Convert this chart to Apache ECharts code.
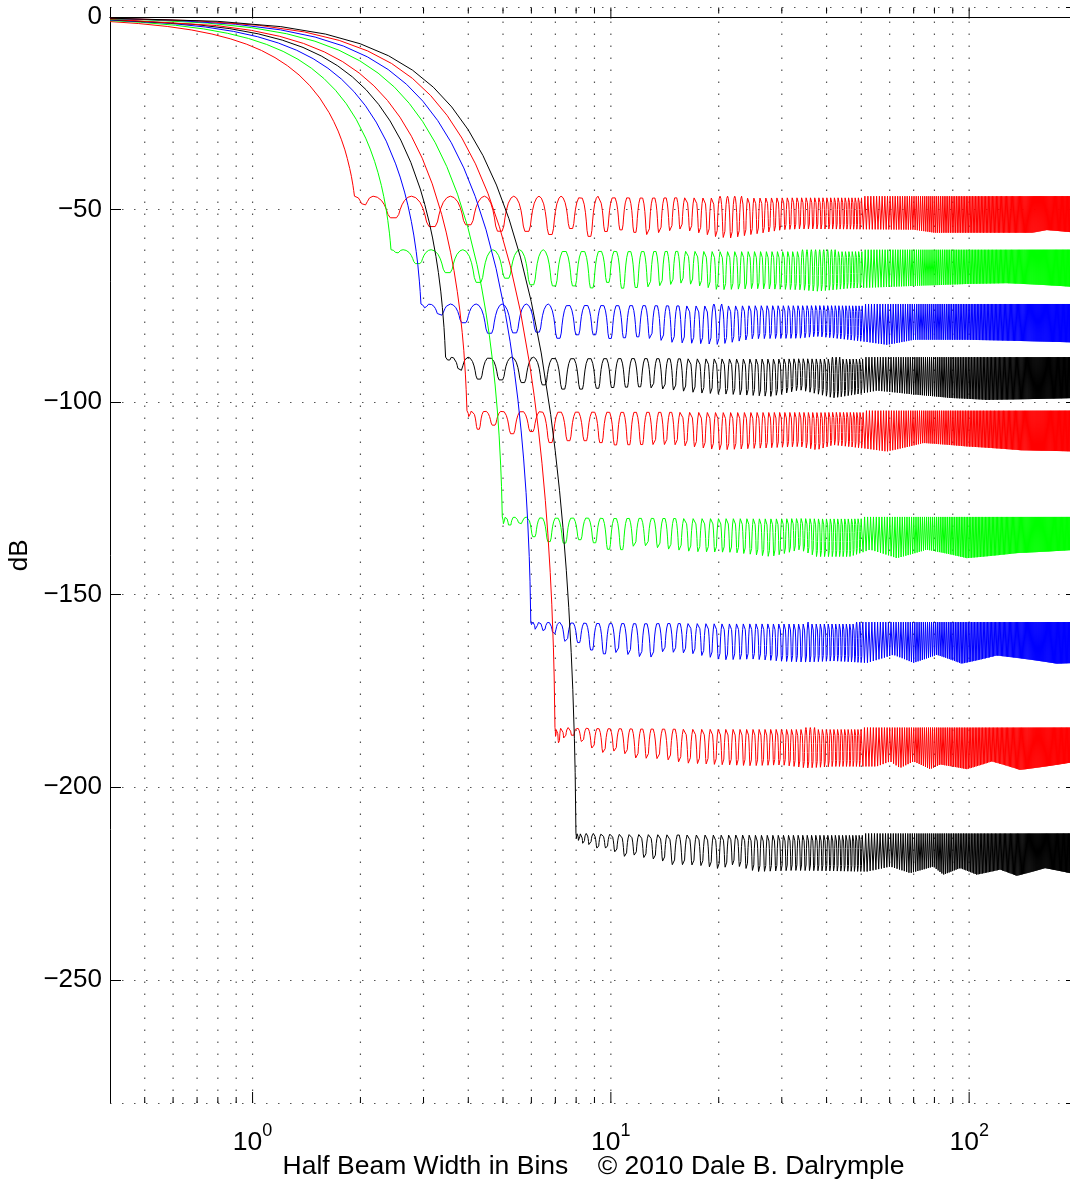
<!DOCTYPE html>
<html>
<head>
<meta charset="utf-8">
<title>Half Beam Width in Bins</title>
<script src="https://cdn.jsdelivr.net/npm/echarts@6.0.0/dist/echarts.min.js"></script>
<style>
    html, body { margin: 0; padding: 0; background: #fff; }
    #firstChart { width: 1070px; height: 1186px; }
</style>
</head>
<body>
<div id="firstChart"></div>
<script>
/** ----------------数据--------------------------------* */
var xMin = 0.4, xMax = 200;
var yMin = -282, yMax = 2.5;

// x grid / tick positions (log axis)
var xMajorTicks = [1, 10, 100];
var xMinorTicks = [0.5, 0.6, 0.7, 0.8, 0.9, 2, 3, 4, 5, 6, 7, 8, 9,
    20, 30, 40, 50, 60, 70, 80, 90];

// curve colours, in plotting order
var curveColors = ['#ff0000', '#00ff00', '#0000ff', '#000000', '#ff0000',
    '#00ff00', '#0000ff', '#ff0000', '#000000'];
// equiripple sidelobe level of each curve, dB
var sideLevels = [-46.5, -60.4, -74.5, -88.3, -102.2, -129.8, -157.1, -184.5, -212.0];

// main lobes: [bins, dB] from the left edge down to the sidelobe level
var mainA = [[0.4, -1.15], [0.481, -1.67], [0.578, -2.42], [0.674, -3.32], [0.770, -4.39], [0.866, -5.62],
    [0.963, -7.04], [1.059, -8.66], [1.155, -10.51], [1.251, -12.61], [1.348, -15.02], [1.444, -17.78],
    [1.540, -21.01], [1.636, -24.84], [1.684, -27.07], [1.733, -29.59], [1.771, -31.87], [1.810, -34.47],
    [1.838, -36.71], [1.867, -39.31], [1.887, -41.33], [1.906, -43.67], [1.915, -45.01], [1.925, -46.5]];
var mainB = [[0.4, -0.90], [0.487, -1.34], [0.609, -2.11], [0.730, -3.06], [0.852, -4.20], [0.974, -5.54],
    [1.095, -7.10], [1.217, -8.90], [1.339, -10.95], [1.460, -13.28], [1.582, -15.95], [1.704, -18.99],
    [1.826, -22.49], [1.947, -26.57], [2.069, -31.43], [2.130, -34.26], [2.191, -37.46], [2.239, -40.37],
    [2.288, -43.71], [2.324, -46.63], [2.361, -50.06], [2.385, -52.80], [2.410, -56.10], [2.422, -58.08],
    [2.434, -60.4]];
var mainC = [[0.4, -0.74], [0.590, -1.63], [0.738, -2.56], [0.885, -3.71], [1.033, -5.09], [1.180, -6.72],
    [1.328, -8.61], [1.476, -10.79], [1.623, -13.27], [1.771, -16.11], [1.918, -19.33], [2.066, -23.02],
    [2.213, -27.26], [2.361, -32.21], [2.508, -38.11], [2.582, -41.54], [2.656, -45.43], [2.715, -48.96],
    [2.774, -53.04], [2.818, -56.60], [2.862, -60.86], [2.892, -64.29], [2.921, -68.56], [2.936, -71.22],
    [2.951, -74.5]];
var mainD = [[0.4, -0.63], [0.691, -1.91], [0.864, -2.99], [1.037, -4.34], [1.210, -5.97], [1.383, -7.87],
    [1.555, -10.09], [1.728, -12.64], [1.901, -15.55], [2.074, -18.86], [2.247, -22.64], [2.420, -26.96],
    [2.592, -31.93], [2.765, -37.73], [2.938, -44.63], [3.024, -48.66], [3.111, -53.21], [3.180, -57.35],
    [3.249, -62.13], [3.301, -66.33], [3.353, -71.35], [3.387, -75.44], [3.422, -80.61], [3.439, -83.96],
    [3.457, -88.3]];
var mainE = [[0.4, -0.55], [0.793, -2.19], [0.992, -3.44], [1.190, -4.98], [1.388, -6.84], [1.586, -9.03],
    [1.785, -11.58], [1.983, -14.50], [2.181, -17.84], [2.380, -21.64], [2.578, -25.98], [2.776, -30.94],
    [2.975, -36.64], [3.173, -43.29], [3.371, -51.21], [3.470, -55.83], [3.569, -61.05], [3.649, -65.81],
    [3.728, -71.30], [3.788, -76.12], [3.847, -81.89], [3.887, -86.62], [3.926, -92.70], [3.946, -96.72],
    [3.966, -102.2]];
var mainF = [[0.4, -0.44], [0.498, -0.68], [0.747, -1.54], [0.995, -2.74], [1.244, -4.31], [1.493, -6.26],
    [1.742, -8.59], [1.991, -11.34], [2.240, -14.53], [2.489, -18.19], [2.737, -22.39], [2.986, -27.16],
    [3.235, -32.60], [3.484, -38.82], [3.733, -45.98], [3.982, -54.32], [4.230, -64.27], [4.355, -70.06],
    [4.479, -76.61], [4.579, -82.58], [4.678, -89.48], [4.753, -95.53], [4.828, -102.80], [4.877, -108.76],
    [4.927, -116.55], [4.952, -121.88], [4.977, -129.8]];
var mainG = [[0.4, -0.37], [0.598, -0.82], [0.897, -1.84], [1.196, -3.30], [1.495, -5.18], [1.793, -7.51],
    [2.092, -10.32], [2.391, -13.62], [2.690, -17.45], [2.989, -21.85], [3.288, -26.89], [3.587, -32.62],
    [3.886, -39.16], [4.185, -46.63], [4.484, -55.23], [4.782, -65.25], [5.081, -77.19], [5.231, -84.15],
    [5.380, -92.02], [5.500, -99.19], [5.619, -107.47], [5.709, -114.74], [5.799, -123.47], [5.858, -130.66],
    [5.918, -140.07], [5.948, -146.63], [5.978, -157.1]];
var mainH = [[0.4, -0.31], [0.698, -0.95], [1.047, -2.15], [1.396, -3.85], [1.746, -6.05], [2.095, -8.78],
    [2.444, -12.05], [2.793, -15.90], [3.142, -20.38], [3.491, -25.52], [3.840, -31.41], [4.189, -38.10],
    [4.538, -45.74], [4.887, -54.46], [5.237, -64.50], [5.586, -76.21], [5.935, -90.16], [6.109, -98.29],
    [6.284, -107.48], [6.423, -115.85], [6.563, -125.52], [6.668, -134.01], [6.773, -144.21], [6.842, -152.61],
    [6.912, -163.62], [6.947, -171.38], [6.982, -184.5]];
var mainI = [[0.4, -0.27], [0.799, -1.09], [1.199, -2.47], [1.598, -4.40], [1.998, -6.92], [2.397, -10.04],
    [2.797, -13.79], [3.196, -18.20], [3.596, -23.32], [3.995, -29.21], [4.395, -35.94], [4.794, -43.61],
    [5.194, -52.34], [5.593, -62.33], [5.993, -73.82], [6.392, -87.21], [6.792, -103.18], [6.991, -112.48],
    [7.191, -123.00], [7.351, -132.58], [7.511, -143.65], [7.630, -153.36], [7.750, -165.03], [7.830, -174.64],
    [7.910, -187.26], [7.950, -196.20], [7.990, -212.0]];

// sidelobe peak positions (bins); past the last one the lobes are one bin apart
var peaksA = [1.925, 2.169, 2.776, 3.565, 4.439, 5.358, 6.301, 7.260, 8.228, 9.204, 10.18, 11.17];
var peaksB = [2.434, 2.631, 3.150, 3.863, 4.682, 5.561, 6.475, 7.411, 8.362, 9.323, 10.29, 11.27];
var peaksC = [2.951, 3.116, 3.565, 4.208, 4.971, 5.806, 6.686, 7.597, 8.527, 9.471, 10.43, 11.39];
var peaksD = [3.457, 3.598, 3.993, 4.577, 5.287, 6.078, 6.924, 7.807, 8.715, 9.641, 10.58, 11.53];
var peaksE = [3.966, 4.090, 4.442, 4.973, 5.633, 6.382, 7.192, 8.045, 8.929, 9.835, 10.76, 11.69];
var peaksF = [4.977, 5.076, 5.364, 5.811, 6.385, 7.055, 7.796, 8.589, 9.422, 10.28, 11.17, 12.07];
var peaksG = [5.978, 6.061, 6.303, 6.688, 7.192, 7.793, 8.469, 9.205, 9.986, 10.80, 11.65, 12.52];
var peaksH = [6.982, 7.053, 7.263, 7.599, 8.047, 8.588, 9.206, 9.887, 10.62, 11.39, 12.20, 13.03];
var peaksI = [7.990, 8.052, 8.237, 8.535, 8.935, 9.426, 9.992, 10.62, 11.31, 12.04, 12.80, 13.60, 14.42];

// lower edge of the sidelobe ripple (depth of the dips): [bins, dB]
var floorA = [[1.99, -48.3], [2.44, -52], [3.15, -54.4], [3.99, -53.9], [4.9, -55.6], [5.8, -55.6], [6.75, -56.5],
    [7.7, -54.8], [8.67, -57], [9.63, -55.7], [10.6, -55.2], [12.6, -56.5], [15.6, -55], [19.7, -57], [21.5, -57.4],
    [24.5, -56.5], [30.3, -55.2], [33.7, -55], [69.9, -55.2], [80, -56], [150, -56], [164.6, -55.3], [200, -56]];
var floorB = [[2.53, -61.2], [2.86, -63.9], [3.49, -66.3], [4.26, -68.9], [5.12, -67.8], [6.01, -69.5], [6.94, -69.8],
    [7.9, -69.8], [8.8, -70.4], [9.7, -68.7], [10.7, -70.4], [13, -70], [16, -69], [20, -70.8], [25, -70.5],
    [33.7, -70.8], [37.6, -71.2], [46.5, -70.4], [69.9, -69.8], [98.5, -69.3], [127, -69.1], [200, -70.1]];
var floorC = [[3.05, -75.5], [3.31, -77.3], [3.87, -79.3], [4.58, -82.1], [5.38, -82], [6.24, -81.8], [7.14, -83.4],
    [8.06, -82.5], [9.0, -82.5], [10, -83.5], [12, -83], [15, -84.5], [20, -85], [25, -83.5], [33.7, -83.4],
    [37.6, -82.9], [58.9, -85.1], [69.9, -83.8], [98.5, -83.8], [151, -84.2], [200, -84.5]];
var floorD = [[3.56, -89.5], [3.77, -91.6], [4.27, -94], [4.92, -94.2], [5.67, -94.9], [6.5, -95.5], [7.36, -96.6],
    [8.26, -96.6], [10, -96.2], [12, -96], [17.7, -97.6], [28, -98.5], [33.7, -96.8], [41.8, -98.9], [55.2, -97],
    [69.9, -98], [88.4, -98.9], [112, -99.4], [200, -98.9]];
var floorE = [[4.0, -103.5], [4.2, -107.2], [4.69, -105.9], [5.29, -108.2], [6.0, -107.6], [6.79, -110.5],
    [7.62, -110], [8.49, -110], [9.38, -110.5], [10.3, -111.1], [12, -111], [15, -111], [20, -112.4], [25, -112],
    [33.7, -111.5], [37.6, -112.4], [41.8, -111.1], [58.9, -112.8], [74.5, -110.6], [98.5, -111.5], [140, -112.5],
    [200, -112.8]];
var floorF = [[5.0, -131.8], [5.2, -132.3], [5.58, -131.5], [6.08, -134.9], [6.71, -136.2], [7.42, -136.6],
    [8.2, -135.7], [9.0, -136.5], [9.9, -138.3], [10.8, -138.3], [12, -137], [14, -138], [17, -138.8], [22, -139],
    [28, -140.1], [33.7, -138.3], [37.6, -140.1], [46.5, -140.1], [52.9, -138.3], [62.8, -140.5], [76.1, -138.3],
    [98.5, -140.5], [135.8, -139.2], [200, -138.3]];
var floorG = [[6.0, -158], [6.16, -159.3], [6.48, -159.3], [6.94, -160.1], [7.48, -162.1], [8.12, -162.4],
    [8.8, -164.3], [9.5, -165.4], [10.4, -165], [12.8, -166.5], [14, -164.8], [16.8, -165.2], [20.4, -166.9],
    [24.9, -166.7], [30.3, -167.3], [35.2, -167.5], [41.8, -167.2], [51.8, -167.7], [61.4, -165.6], [69.9, -167.7],
    [81.2, -165.6], [95.3, -167.9], [119.4, -165.8], [175.5, -167.9], [200, -167.7]];
var floorH = [[7.0, -187], [7.14, -188.5], [7.42, -187.7], [7.81, -186.8], [8.31, -188.1], [8.89, -189.8],
    [9.5, -191], [10.1, -190.5], [10.8, -191], [11.8, -192.4], [14, -192.6], [16.1, -193.7], [20, -194.1],
    [24.5, -194.4], [30, -194.2], [35.2, -195], [41.8, -194.6], [55.2, -194.6], [60.2, -193.3], [64.1, -195],
    [69.9, -193.3], [77.8, -195.3], [83, -194.1], [98.5, -195.3], [115.6, -193.3], [138.7, -195.5], [200, -193.3]];
var floorI = [[8.02, -213.5], [8.3, -214.9], [9.1, -215.8], [9.9, -215.8], [10.84, -218], [11.7, -217.6],
    [12.6, -218.4], [13.7, -218.8], [14.8, -220.1], [16.5, -220.1], [18.3, -220.4], [20.2, -221.2], [22, -220.1],
    [25.5, -221.9], [32.3, -221.6], [51.8, -221.9], [60.2, -220.6], [68.4, -222.3], [79.4, -220.6], [84.7, -222.7],
    [94.3, -221], [105, -222.7], [122, -221.4], [135.8, -223], [162.8, -221], [200, -222.7]];

// shape of one sidelobe, peak to peak: fraction of the lobe width / fraction of the dip depth
var lobeT = [0, 0.1, 0.2, 0.27, 0.32, 0.36, 0.42, 0.58, 0.64, 0.68, 0.73, 0.8, 0.9, 1];
var lobeD = [0, 0.05, 0.2, 0.4, 0.62, 0.85, 1, 1, 0.85, 0.62, 0.4, 0.2, 0.05, 0];
// where the lobes are only a pixel or two wide a plain zigzag looks the same
var denseFrom = 50;
var lobeTDense = [0, 0.5, 1];
var lobeDDense = [0, 1, 0];

var curveMains = [mainA, mainB, mainC, mainD, mainE, mainF, mainG, mainH, mainI];
var curvePeaks = [peaksA, peaksB, peaksC, peaksD, peaksE, peaksF, peaksG, peaksH, peaksI];
var curveFloors = [floorA, floorB, floorC, floorD, floorE, floorF, floorG, floorH, floorI];

var fontName = '"Liberation Sans", Arial, Helvetica, sans-serif';

/** ----------------加载图表-------------------------* */
window.onload = function () {
    initChart();
};

// dip level at x, read along the floor list
function floorAt(floor, x) {
    if (x <= floor[0][0]) return floor[0][1];
    for (var i = 1; i < floor.length; i++) {
        if (x <= floor[i][0]) {
            var a = floor[i - 1], b = floor[i];
            return a[1] + (b[1] - a[1]) * (x - a[0]) / (b[0] - a[0]);
        }
    }
    return floor[floor.length - 1][1];
}

function buildCurve(main, peaks, floor, level) {
    var pts = main.slice();
    var tops = peaks.slice();
    while (tops[tops.length - 1] < xMax) {
        tops.push(tops[tops.length - 1] + 1);
    }
    for (var k = 0; k < tops.length - 1; k++) {
        var p0 = tops[k], p1 = tops[k + 1];
        var depth = level - floorAt(floor, (p0 + p1) / 2);
        var tt = p0 >= denseFrom ? lobeTDense : lobeT;
        var dd = p0 >= denseFrom ? lobeDDense : lobeD;
        for (var j = 1; j < tt.length; j++) {
            var x = p0 + (p1 - p0) * tt[j];
            if (x > xMax) return pts;
            pts.push([x, level - depth * dd[j]]);
        }
    }
    return pts;
}

function decadeLabel(value) {
    var e = Math.log(value) / Math.LN10;
    var n = Math.round(e);
    if (Math.abs(e - n) > 1e-6) return '';
    return '{b|10}{s|' + n + '}';
}

function dbLabel(value) {
    if (Math.abs(value % 50) > 1e-6) return '';
    return value < 0 ? '\u2212' + (-value) : String(value);
}

function initChart() {
    var chart = echarts.init(document.getElementById('firstChart'), null, {renderer: 'canvas'});

    var tickData = [];
    for (var i = 0; i < xMinorTicks.length; i++) tickData.push([xMinorTicks[i], 0]);
    for (var j = 0; j < xMajorTicks.length; j++) tickData.push([xMajorTicks[j], 1]);

    var series = [{
        type: 'custom',
        silent: true,
        z: 1,
        data: tickData,
        renderItem: function (params, api) {
            var x = api.value(0);
            var len = api.value(1) ? 11 : 6;
            var b = api.coord([x, yMin]);
            var t = api.coord([x, yMax]);
            return {
                type: 'group',
                children: [
                    {type: 'line', shape: {x1: b[0], y1: b[1], x2: t[0], y2: t[1]},
                        style: {stroke: '#555', lineWidth: 1.2, lineDash: [1.5, 10.5]}},
                    {type: 'line', shape: {x1: b[0], y1: b[1], x2: b[0], y2: b[1] - len},
                        style: {stroke: '#000', lineWidth: 1}},
                    {type: 'line', shape: {x1: t[0], y1: t[1], x2: t[0], y2: t[1] + len},
                        style: {stroke: '#000', lineWidth: 1}}
                ]
            };
        }
    }];

    for (var c = 0; c < curveMains.length; c++) {
        series.push({
            type: 'line',
            z: 2,
            silent: true,
            showSymbol: false,
            symbol: 'none',
            sampling: null,
            data: buildCurve(curveMains[c], curvePeaks[c], curveFloors[c], sideLevels[c]),
            lineStyle: {color: curveColors[c], width: 1, join: 'bevel'},
            emphasis: {disabled: true}
        });
    }

    var option = {
        animation: false,
        backgroundColor: '#fff',
        grid: {left: 110, right: -7, top: 7.5, bottom: 83, containLabel: false, outerBoundsMode: 'none'},
        xAxis: [{
            type: 'log',
            position: 'bottom',
            min: xMin,
            max: xMax,
            axisLine: {show: true, lineStyle: {color: '#000', width: 1}},
            axisTick: {show: false},
            splitLine: {show: false},
            minorTick: {show: false},
            axisLabel: {
                formatter: decadeLabel,
                margin: 19,
                color: '#000',
                showMinLabel: false,
                showMaxLabel: false,
                rich: {
                    b: {fontSize: 26.5, fontFamily: fontName, color: '#000', lineHeight: 34, verticalAlign: 'bottom'},
                    s: {fontSize: 18, fontFamily: fontName, color: '#000', lineHeight: 18, verticalAlign: 'top'}
                }
            },
            name: 'Half Beam Width in Bins    \u00a9 2010 Dale B. Dalrymple',
            nameLocation: 'middle',
            nameGap: 50,
            nameMoveOverlap: false,
            nameTextStyle: {fontSize: 26.5, fontFamily: fontName, color: '#000'}
        }, {
            type: 'log',
            position: 'top',
            min: xMin,
            max: xMax,
            axisLine: {show: true, lineStyle: {color: '#000', width: 1}},
            axisTick: {show: false},
            axisLabel: {show: false},
            splitLine: {show: false}
        }],
        yAxis: [{
            type: 'value',
            position: 'left',
            min: yMin,
            max: yMax,
            splitNumber: 6,
            axisLine: {show: true, lineStyle: {color: '#000', width: 1}},
            axisTick: {show: true, inside: true, length: 11, lineStyle: {color: '#000'}},
            splitLine: {show: true, lineStyle: {color: '#555', width: 1.2, type: [1.5, 10.5]}},
            axisLabel: {
                formatter: dbLabel,
                margin: 8,
                fontSize: 26,
                fontFamily: fontName,
                color: '#000',
                showMinLabel: false,
                showMaxLabel: false
            },
            name: 'dB',
            nameLocation: 'middle',
            nameGap: 77,
            nameTextStyle: {fontSize: 26, fontFamily: fontName, color: '#000'}
        }, {
            type: 'value',
            position: 'right',
            min: yMin,
            max: yMax,
            splitNumber: 6,
            axisLine: {show: true, lineStyle: {color: '#000', width: 1}},
            axisTick: {show: true, inside: true, length: 11, lineStyle: {color: '#000'}},
            splitLine: {show: false},
            axisLabel: {show: false}
        }],
        series: series
    };
    chart.setOption(option);
}
</script>
</body>
</html>
